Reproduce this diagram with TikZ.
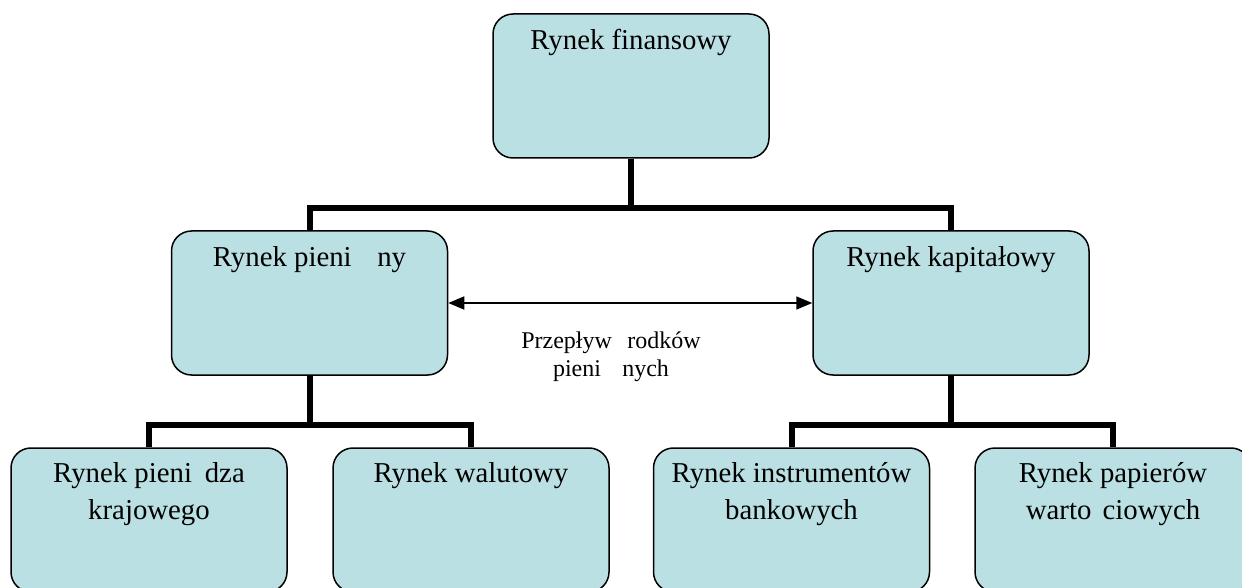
\documentclass[tikz,border=0pt]{standalone}
\usepackage{fontspec}
\setmainfont{Liberation Serif}
\usepackage{xcolor}
\usetikzlibrary{arrows.meta}
\definecolor{boxblue}{RGB}{187,224,227}
\newcommand{\lost}[1]{\phantom{#1}}

\begin{document}
\begin{tikzpicture}[x=0.5pt, y=-0.5pt,
  market/.style={draw=black, line width=0.75pt, fill=boxblue, rounded corners=10pt,
    minimum width=138pt, minimum height=72pt, inner sep=0pt},
  boxtext/.style={anchor=base, align=center, inner sep=0pt,
    font=\fontsize{14.4pt}{18.5pt}\selectfont},
  tree/.style={line width=3pt},
  flow/.style={line width=0.8pt, {Triangle[length=8pt,width=6.5pt]}-{Triangle[length=8pt,width=6.5pt]}}]
\useasboundingbox (0,0) rectangle (1242,588);
\clip (0,0) rectangle (1242,588);
\node[market] (fin) at (631,86) {};
\node[market] (money) at (309.5,303) {};
\node[market] (capital) at (951,303) {};
\node[market] (domestic) at (149,520) {};
\node[market] (fx) at (471,520) {};
\node[market] (bank) at (791.5,520) {};
\node[market] (secur) at (1113,520) {};
\node[boxtext] (fintxt) at ([yshift=-18pt]fin.north) {Rynek finansowy};
\node[boxtext] (moneytxt) at ([yshift=-18pt]money.north) {Rynek pieni\lost{ęż}ny};
\node[boxtext] (capitaltxt) at ([yshift=-18pt]capital.north) {Rynek kapitałowy};
\node[boxtext] (domestictxt) at ([yshift=-36pt]domestic.north) {Rynek pieni\lost{ą}dza\\krajowego};
\node[boxtext] (fxtxt) at ([yshift=-17.5pt]fx.north) {Rynek walutowy};
\node[boxtext] (banktxt) at ([yshift=-36pt]bank.north) {Rynek instrumentów\\bankowych};
\node[boxtext] (securtxt) at ([yshift=-36pt]secur.north) {Rynek papierów\\warto\lost{ś}ciowych};
\coordinate (top split) at (631,208);
\coordinate (left split) at (309.5,425);
\coordinate (right split) at (951,425);
\draw[tree] (fin.south) -- (top split);
\draw[tree] (money.north) |- (top split) -| (capital.north);
\draw[tree] (money.south) -- (left split);
\draw[tree] (domestic.north) |- (left split) -| (fx.north);
\draw[tree] (capital.south) -- (right split);
\draw[tree] (bank.north) |- (right split) -| (secur.north);
\draw[flow] (money.east) -- (capital.west);
\node[anchor=base, align=center, inner sep=0pt, font=\fontsize{12pt}{14pt}\selectfont]
  (flowtxt) at (611,376) {Przepływ \lost{ś}rodków\\pieni\lost{ęż}nych};
\end{tikzpicture}
\end{document}
